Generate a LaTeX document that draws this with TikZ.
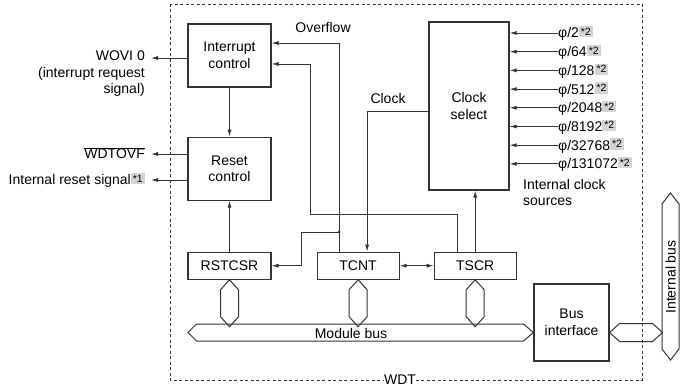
\documentclass[tikz,border=0pt]{standalone}
\usepackage{fontspec}
\setmainfont{Liberation Sans}
\usepackage{xcolor}
\usepackage{tikz}
\usetikzlibrary{positioning,arrows.meta,calc}

\definecolor{notegray}{HTML}{D4D4D4}
\definecolor{wire}{HTML}{333333}
\newcommand{\nt}[1]{\raisebox{2.5pt}{\setlength{\fboxsep}{2pt}\colorbox{notegray}{\fontsize{10.5}{11}\selectfont *#1}}}

\begin{document}
\begin{tikzpicture}[
  x=1pt, y=-1pt,
  font=\fontsize{14}{16.5}\selectfont,
  box/.style={draw=wire, line width=1.1pt, align=center, minimum width=83pt, minimum height=63pt, inner sep=1pt},
  reg/.style={draw=wire, line width=1.1pt, align=center, minimum width=83pt, minimum height=27pt, inner sep=1pt},
  sig/.style={anchor=base east, inner xsep=6pt, inner ysep=0pt},
  arr/.style={draw=wire, -{Latex[length=7pt,width=4pt]}, line width=0.9pt},
  dbl/.style={draw=wire, {Latex[length=7pt,width=4pt]}-{Latex[length=7pt,width=4pt]}, line width=0.9pt},
  hex/.style={draw=wire, line width=1pt, line join=miter}]
\useasboundingbox (0,0) rectangle (684,387);

% WDT frame
\draw[wire, dash pattern=on 3pt off 2.5pt, line width=0.8pt] (170,4) rectangle (642,380);
\node[fill=white, inner sep=0.5pt] (wdt) at (400,379.5) {WDT};

% blocks
\node[box] (intr) at (229.5,55.5) {Interrupt\\control};
\node[box, below=49pt of intr] (rstc) {Reset\\control};
\node[reg, below=51pt of rstc] (rstcsr) {RSTCSR};
\node[reg, minimum width=82pt, right=45pt of rstcsr] (tcnt) {TCNT};
\node[reg, minimum width=82pt, right=34pt of tcnt] (tscr) {TSCR};
\node[box, minimum width=80pt, minimum height=168pt] (clksel) at (469,106) {Clock\\select};
\node[box, minimum width=75pt, minimum height=77pt] (busif) at (571.5,322.5) {Bus\\interface};

% outside signals
\node[anchor=north east, align=right, inner xsep=6pt, inner ysep=0pt] (wovi) at (151,51) {WOVI 0\\(interrupt request\\signal)};
\node[sig] (wdtovf) at (151,159) {$\overline{\mbox{WDTOVF}}$};
\node[sig] (rstsig) at (151,185) {Internal reset signal\nt{1}};
\draw[arr] (intr.west |- 0,58) -- (wovi.east |- 0,58);
\draw[arr] (rstc.west |- 0,154) -- (wdtovf.east |- 0,154);
\draw[arr] (rstc.west |- 0,180) -- (rstsig.east |- 0,180);

% internal wiring
\node (ovflbl) at (323,27) {Overflow};
\node (clklbl) at (388,98) {Clock};
\coordinate (ovf) at ([xshift=-19pt]tcnt.north);
\coordinate (tsq) at ([xshift=-18pt]tscr.north);
\draw[arr] (intr) -- (rstc);
\draw[arr] (rstcsr) -- (rstc);
\draw[arr] (ovf) |- (intr.east |- 0,43);
\draw[arr] (tsq) |- (310,214) |- (intr.east |- 0,64);
\draw[arr] (ovf |- 0,232) -- ++(-38,0) |- (rstcsr.east);
\fill[wire] (ovf |- 0,232) circle (1.6pt);
\draw[arr] (clksel.west |- 0,111) -| ([xshift=9pt]tcnt.north);
\draw[dbl] (tcnt) -- (tscr);
\draw[arr] (tscr.north) -- (tscr.north |- clksel.south);

% clock sources
\foreach \d [count=\i] in {2,64,128,512,2048,8192,32768,131072}{
  \pgfmathsetmacro\y{14.3+18.7*\i}
  \node[anchor=base west, inner sep=0pt] (src\i) at (558,\y+5) {φ/\d\nt{2}};
  \draw[arr] (src\i.west |- 0,\y) -- (clksel.east |- 0,\y);
}
\node[anchor=north west, align=left, inner sep=0pt] (srclbl) at (523,179) {Internal clock\\sources};

% buses
\coordinate (mbl) at (188,332.5);
\coordinate (mbr) at (busif.west |- mbl);
\draw[hex] (mbl) -- ++(8.5,-8.5) -- ($(mbr)+(-10,-8.5)$) -- (mbr) -- ($(mbr)+(-10,8.5)$) -- ($(mbl)+(8.5,8.5)$) -- cycle;
\node (mbuslbl) at (351,333) {Module bus};
\foreach \r in {rstcsr,tcnt,tscr}
  \draw[hex] (\r.south) -- ++(9,10) -- ++(0,27) -- ++(-9,10) -- ++(-9,-10) -- ++(0,-27) -- cycle;
\draw[hex] (busif.east |- mbl) -- ++(10,-9) -- ++(33,0) -- ++(10,9) -- ++(-10,9) -- ++(-33,0) -- cycle;
\draw[hex] (670.5,193) -- (679,204) -- (679,349) -- (670.5,360) -- (662,349) -- (662,204) -- cycle;
\node[rotate=90] (ibus) at (670.5,277) {Internal bus};
\end{tikzpicture}
\end{document}
